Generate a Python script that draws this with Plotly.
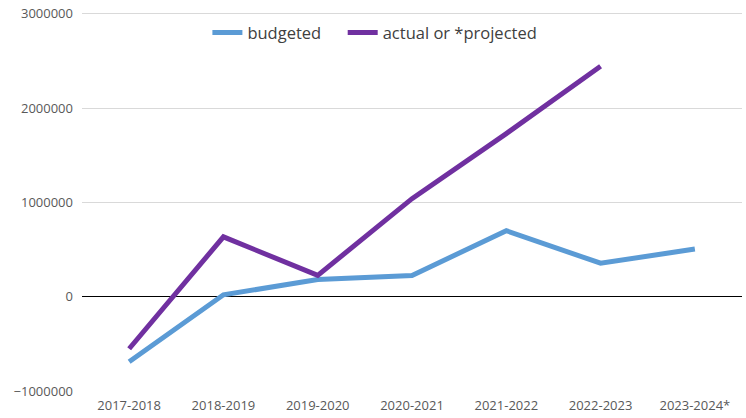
import plotly.graph_objects as go

years = ["2017-2018", "2018-2019", "2019-2020", "2020-2021",
         "2021-2022", "2022-2023", "2023-2024*"]
budgeted = [-690000, 20000, 182000, 225000, 700000, 355000, 505000]
actual = [-552000, 635000, 226000, 1040000, 1730000, 2445000, None]
y_ticks = [-1000000, 0, 1000000, 2000000, 3000000]

fig = go.Figure()
fig.add_trace(go.Scatter(
    x=years, y=budgeted, name="budgeted", mode="lines", showlegend=True,
    line=dict(color="#5B9BD5", width=5), legend="legend"))
fig.add_trace(go.Scatter(
    x=years, y=actual, name="actual or *projected", mode="lines",
    showlegend=True, line=dict(color="#7030A0", width=5), legend="legend2"))

legend_style = dict(orientation="h", xanchor="left", y=0.943,
                    yanchor="middle", font=dict(size=16.5, color="#404040"),
                    bgcolor="rgba(0,0,0,0)")

fig.update_layout(
    width=746, height=418,
    showlegend=True,
    margin=dict(l=82, r=4, t=8, b=24),
    paper_bgcolor="white", plot_bgcolor="white",
    font=dict(family="Open Sans", size=13, color="#595959"),
    legend=dict(x=0.19, **legend_style),
    legend2=dict(x=0.395, **legend_style),
    xaxis=dict(range=[-0.5, 6.5], showgrid=False, showline=False,
               zeroline=False, ticks="", ticklabelstandoff=5),
    yaxis=dict(range=[-1000000, 3030000], tickvals=y_ticks,
               showgrid=True, gridcolor="#D9D9D9", gridwidth=1,
               zeroline=True, zerolinecolor="#000000", zerolinewidth=1,
               showline=False, ticks="", ticklabelstandoff=8,
               tickformat="d"),
)

fig.write_html("out.html")
